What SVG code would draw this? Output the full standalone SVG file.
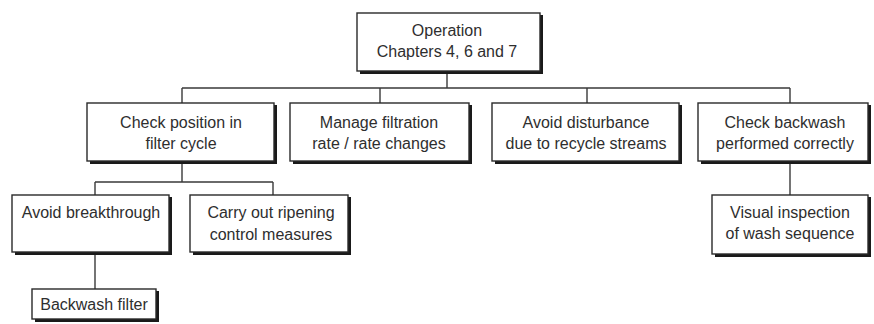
<svg xmlns="http://www.w3.org/2000/svg" width="874" height="324" viewBox="0 0 874 324">
  <style>
    .box { fill: #ffffff; stroke: #2a2a2a; stroke-width: 1.4; }
    .shadow { fill: #1a1a1a; }
    .lbl { font-family: "Liberation Sans", Arial, sans-serif; font-size: 16px; fill: #2e2e2e; text-anchor: middle; }
    .wire { fill: none; stroke: #3a3a3a; stroke-width: 1.4; }
  </style>
  <rect width="874" height="324" fill="#ffffff"/>

  <g id="connectors">
    <path class="wire" d="M447 71 V88 M182 88 H790 M182 88 V103 M380 88 V103 M587 88 V103 M790 88 V103"/>
    <path class="wire" d="M182 162 V182 M95 182 H273 M95 182 V195 M273 182 V195"/>
    <path class="wire" d="M95 253 V289"/>
    <path class="wire" d="M790 162 V195"/>
  </g>

  <g id="operation">
    <rect class="shadow" x="360" y="15" width="183" height="59"/>
    <rect class="box" x="357" y="13" width="183" height="58"/>
    <text class="lbl" x="447" y="36">Operation</text>
    <text class="lbl" x="447" y="57">Chapters 4, 6 and 7</text>
  </g>

  <g id="check-position">
    <rect class="shadow" x="90" y="105" width="187" height="59"/>
    <rect class="box" x="87" y="103" width="187" height="58"/>
    <text class="lbl" x="181" y="128">Check position in</text>
    <text class="lbl" x="181" y="149">filter cycle</text>
  </g>

  <g id="manage-filtration">
    <rect class="shadow" x="293" y="105" width="179" height="59"/>
    <rect class="box" x="290" y="103" width="179" height="58"/>
    <text class="lbl" x="379" y="128">Manage filtration</text>
    <text class="lbl" x="379" y="149">rate / rate changes</text>
  </g>

  <g id="avoid-disturbance">
    <rect class="shadow" x="495" y="105" width="187" height="59"/>
    <rect class="box" x="492" y="103" width="187" height="58"/>
    <text class="lbl" x="586" y="128">Avoid disturbance</text>
    <text class="lbl" x="586" y="149">due to recycle streams</text>
  </g>

  <g id="check-backwash">
    <rect class="shadow" x="701" y="105" width="170" height="59"/>
    <rect class="box" x="698" y="103" width="170" height="58"/>
    <text class="lbl" x="785" y="128">Check backwash</text>
    <text class="lbl" x="785" y="149">performed correctly</text>
  </g>

  <g id="avoid-breakthrough">
    <rect class="shadow" x="15" y="197" width="157" height="58"/>
    <rect class="box" x="12" y="195" width="157" height="57"/>
    <text class="lbl" x="91" y="218">Avoid breakthrough</text>
  </g>

  <g id="ripening-control">
    <rect class="shadow" x="193" y="197" width="158" height="58"/>
    <rect class="box" x="190" y="195" width="158" height="57"/>
    <text class="lbl" x="271" y="218">Carry out ripening</text>
    <text class="lbl" x="271" y="240">control measures</text>
  </g>

  <g id="backwash-filter">
    <rect class="shadow" x="35" y="291" width="124" height="31"/>
    <rect class="box" x="32" y="289" width="124" height="30"/>
    <text class="lbl" x="94" y="310">Backwash filter</text>
  </g>

  <g id="visual-inspection">
    <rect class="shadow" x="715" y="197" width="156" height="60"/>
    <rect class="box" x="712" y="195" width="156" height="59"/>
    <text class="lbl" x="790" y="218">Visual inspection</text>
    <text class="lbl" x="790" y="239">of wash sequence</text>
  </g>
</svg>
